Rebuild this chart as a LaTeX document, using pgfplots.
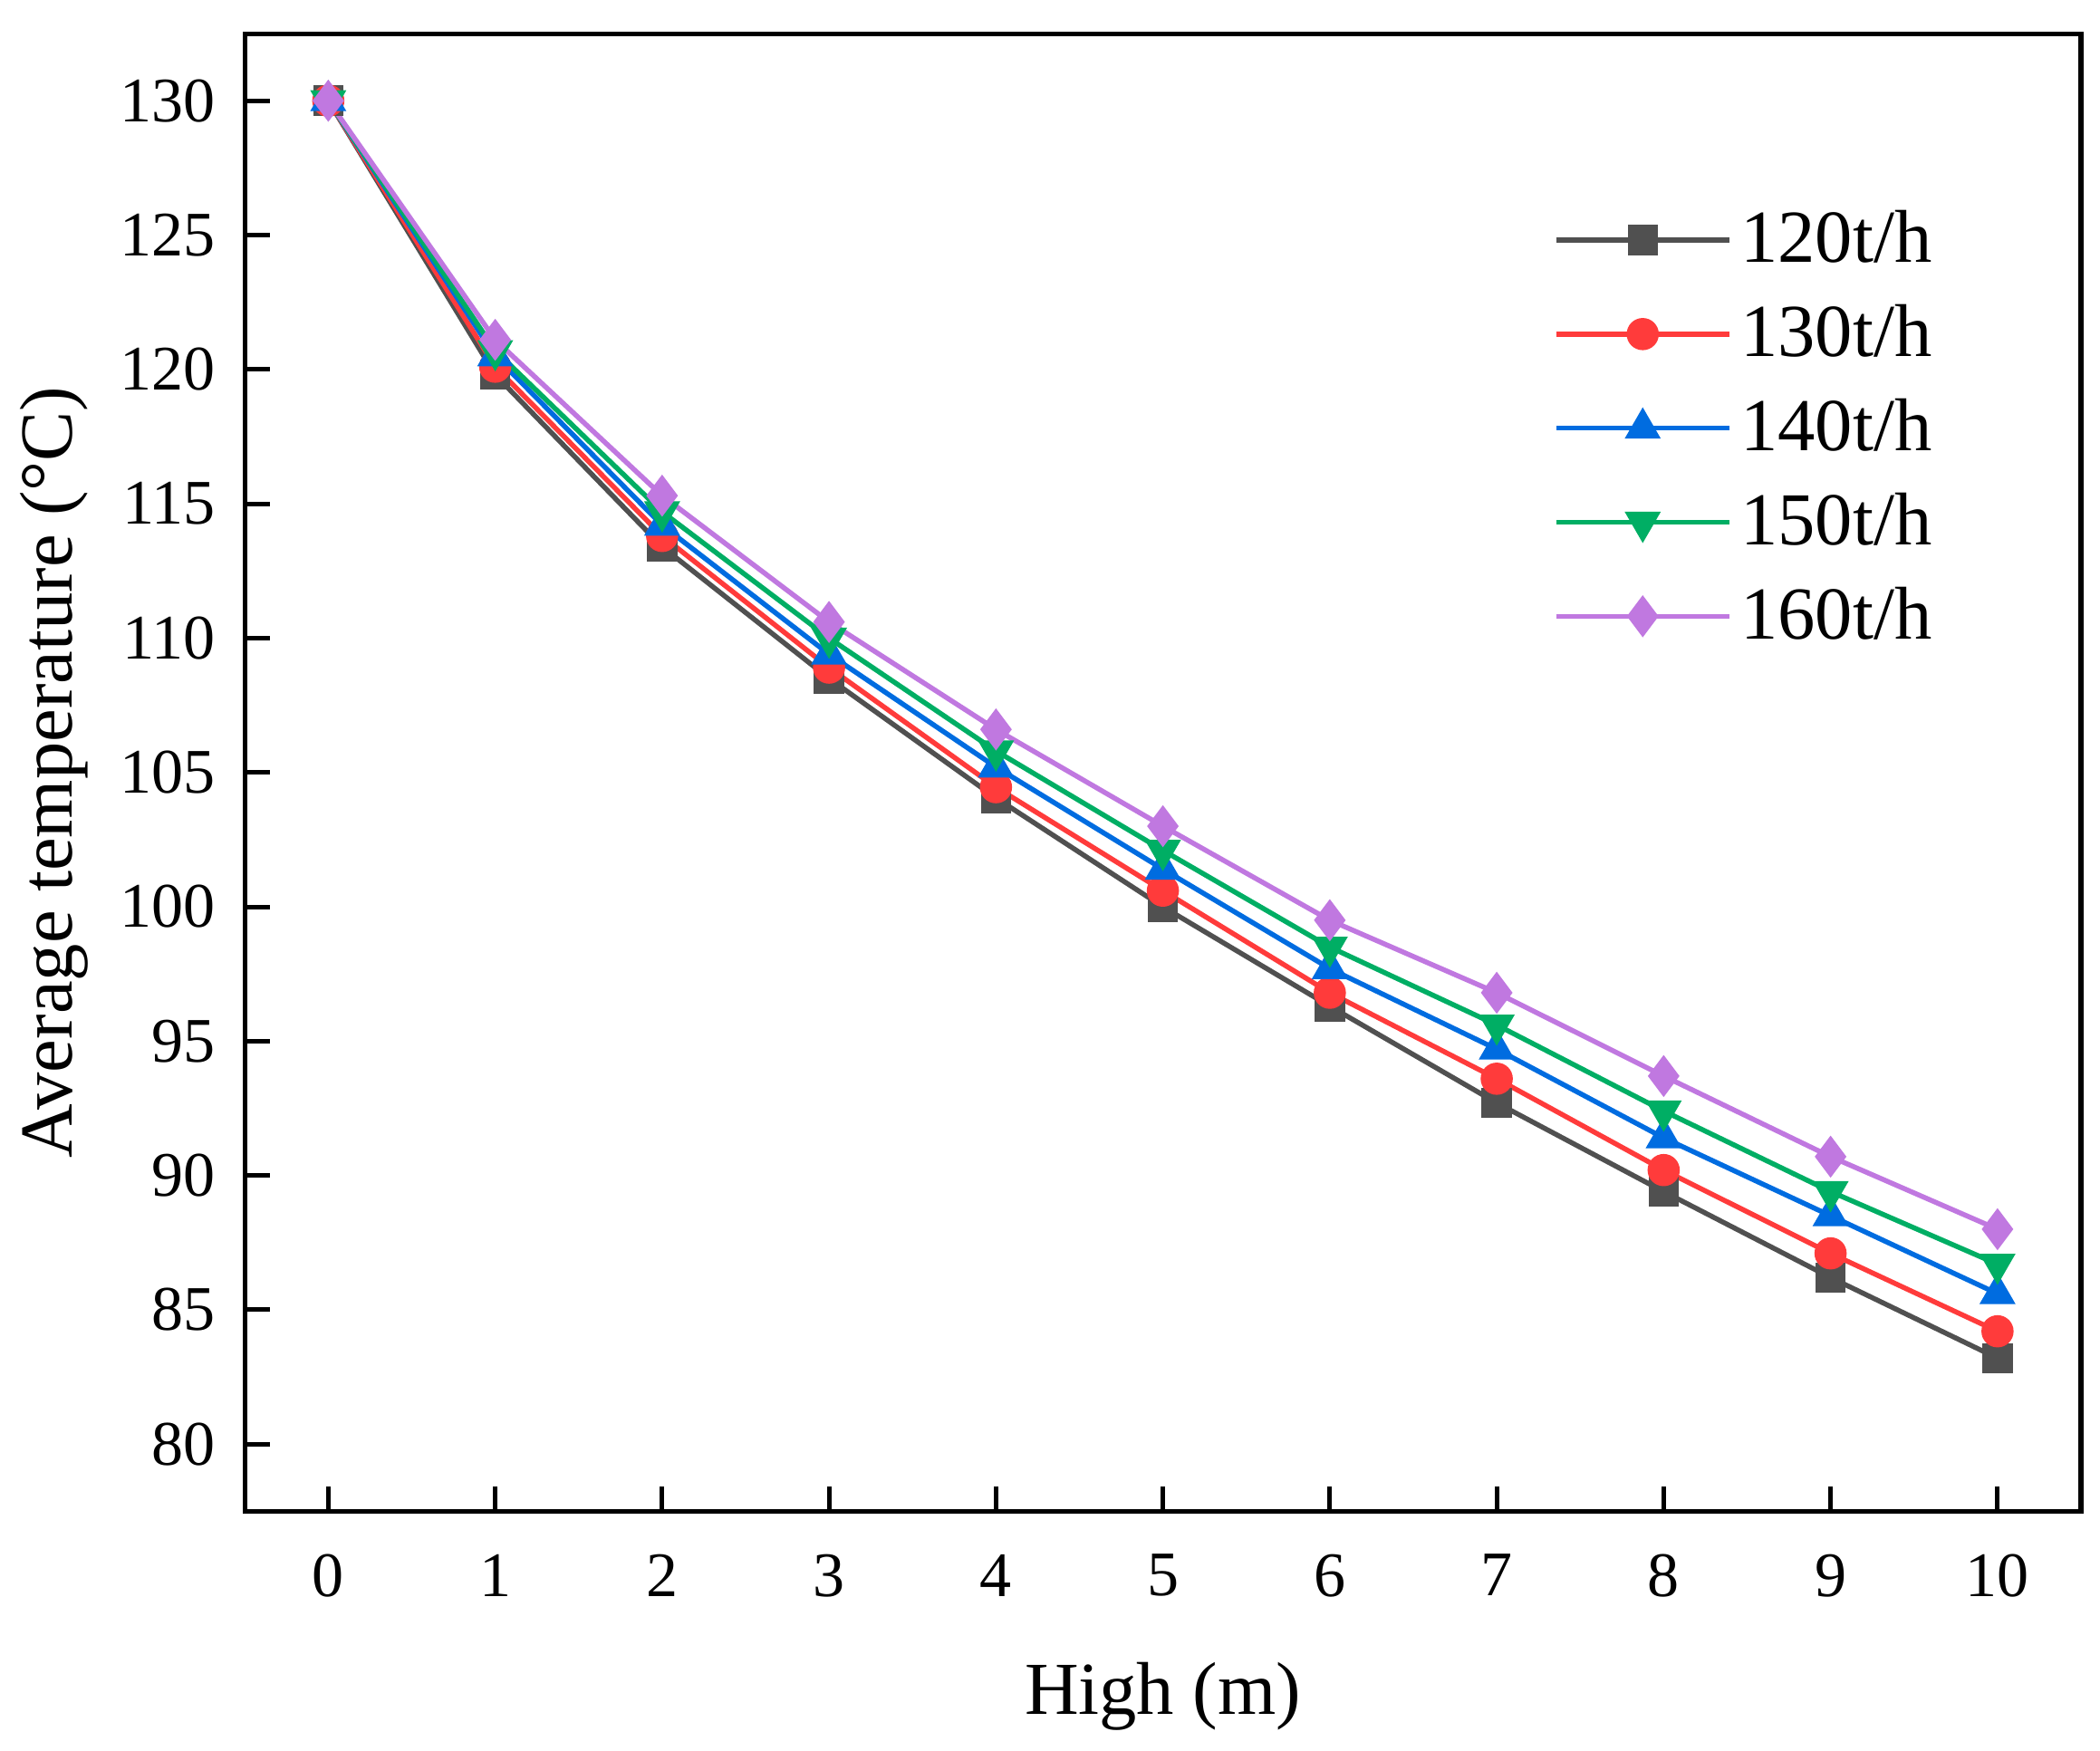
\documentclass[border=0pt]{standalone}
\usepackage{fontspec}
\setmainfont{Liberation Serif}
\usepackage{pgfplots}
\pgfplotsset{compat=1.18}
\definecolor{cA}{HTML}{505050}
\definecolor{cB}{HTML}{FF3B3B}
\definecolor{cC}{HTML}{006CE0}
\definecolor{cD}{HTML}{00AE64}
\definecolor{cE}{HTML}{C078E0}
\begin{document}
\begin{tikzpicture}
\begin{axis}[name=ax,
  scale only axis, width=405pt, height=326pt,
  xmin=-0.5, xmax=10.5, ymin=77.5, ymax=132.5,
  xtick={0,1,...,10}, ytick={80,85,...,130},
  tick align=inside, xtick pos=bottom, ytick pos=left,
  major tick length=5.5pt,
  axis line style={line width=1pt}, every tick/.style={line width=1pt, black},
  /pgf/number format/assume math mode=true,
  tick label style={font=\fontsize{14}{16}\selectfont},
  xticklabel style={yshift=-6pt},
  yticklabel style={xshift=-3pt},
  xlabel={High (m)}, ylabel={Average temperature (°C)},
  label style={font=\fontsize{16.5}{19}\selectfont},
  xlabel style={at={(axis description cs:0.5,-0.125)}, anchor=center},
  ylabel style={at={(axis description cs:-0.104,0.5)}, anchor=center, rotate=0},
  legend style={draw=none, fill=none, at={(axis description cs:0.705,0.893)}, anchor=north west,
    font=\fontsize{16.5}{19}\selectfont, row sep=3.8pt},
  legend cell align=left,
  legend image code/.code={\draw[mark repeat=2, mark phase=2] plot coordinates {(0cm,0cm) (0.67cm,0cm) (1.34cm,0cm)};},
  every axis plot/.append style={line width=1.1pt},
]
\addplot[color=cA, mark=square*, mark size=3.2pt, mark options={solid, line width=0.3pt}] coordinates {
(0,130) (1,119.8) (2,113.4) (3,108.5) (4,104.05) (5,100.0) (6,96.3) (7,92.7) (8,89.4) (9,86.2) (10,83.2)};
\addlegendentry{120t/h}
\addplot[color=cB, mark=*, mark size=3.4pt, mark options={line width=0.3pt}] coordinates {
(0,130) (1,120.1) (2,113.8) (3,108.9) (4,104.45) (5,100.6) (6,96.8) (7,93.6) (8,90.2) (9,87.1) (10,84.2)};
\addlegendentry{130t/h}
\addplot[color=cC, mark=triangle*, mark size=4.3pt, mark options={line width=0.3pt}] coordinates {
(0,130) (1,120.5) (2,114.2) (3,109.4) (4,105.2) (5,101.4) (6,97.7) (7,94.7) (8,91.4) (9,88.5) (10,85.6)};
\addlegendentry{140t/h}
\addplot[color=cD, mark=triangle*, mark size=4.3pt, mark options={rotate=180, line width=0.3pt}] coordinates {
(0,130) (1,120.7) (2,114.7) (3,110.0) (4,105.8) (5,102.1) (6,98.5) (7,95.6) (8,92.4) (9,89.4) (10,86.7)};
\addlegendentry{150t/h}
\addplot[color=cE, mark=diamond*, mark size=4.4pt, mark options={line width=0.3pt}] coordinates {
(0,130) (1,121.1) (2,115.3) (3,110.6) (4,106.6) (5,103.0) (6,99.5) (7,96.8) (8,93.7) (9,90.7) (10,88.0)};
\addlegendentry{160t/h}
\end{axis}
\pgfresetboundingbox
\path ([shift={(-54pt,-52.8pt)}]ax.south west) rectangle ([shift={(4.2pt,7.4pt)}]ax.north east);
\end{tikzpicture}
\end{document}
